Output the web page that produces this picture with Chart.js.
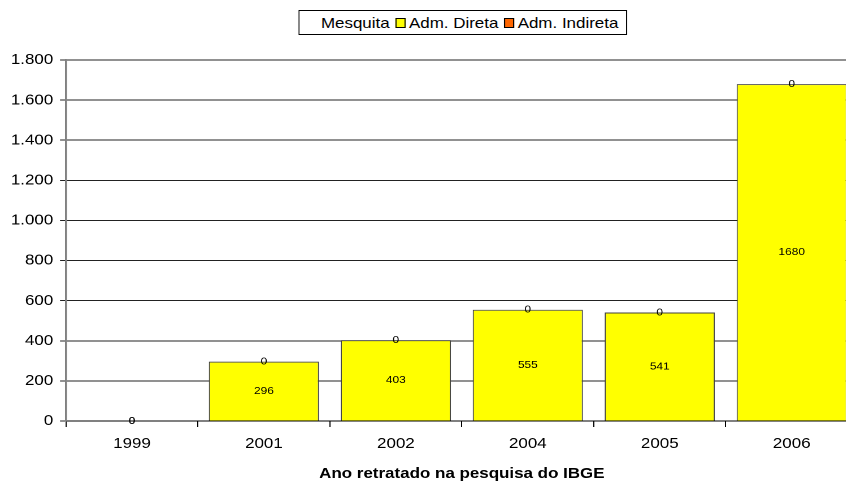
<!DOCTYPE html>
<html>
<head>
<meta charset="utf-8">
<script src="https://cdn.jsdelivr.net/npm/chart.js@4/dist/chart.umd.min.js"></script>
<style>
  html, body { margin: 0; padding: 0; background: #fff; overflow: hidden; width: 846px; height: 482px; }
  /* the reference is drawn slightly stretched horizontally */
  #wrap { position: relative; width: 770px; height: 482px; transform: scaleX(1.13); transform-origin: 0 0; }
  #legend {
    position: absolute; left: 264px; top: 10px; width: 291px; height: 25px; box-sizing: border-box;
    border: 1px solid #000; background: #fff;
    font: 15px "Liberation Sans", Arial, sans-serif; color: #000;
    display: flex; align-items: center; padding: 0 0 0 19px; white-space: nowrap;
  }
  #legend .sw { display: inline-block; box-sizing: border-box; width: 9px; height: 10px; border: 1px solid #000; margin: 0 3px 0 5px; }
</style>
</head>
<body>
<div id="wrap">
  <canvas id="statsChart"></canvas>
  <div id="legend"></div>
</div>
<script>
const years = ['1999', '2001', '2002', '2004', '2005', '2006'];
const admDireta = [0, 296, 403, 555, 541, 1680];
const admIndireta = [0, 0, 0, 0, 0, 0];
const yTicks = [0, 200, 400, 600, 800, 1000, 1200, 1400, 1600, 1800];
const legendTitle = 'Mesquita';

const FONT = '"Liberation Sans", Arial, sans-serif';

document.addEventListener('DOMContentLoaded', () => {
  const canvas = document.getElementById('statsChart');
  canvas.width = 770;
  canvas.height = 482;
  const ctx = canvas.getContext('2d');

  const datasets = [
    {
      label: 'Adm. Direta',
      data: admDireta,
      backgroundColor: '#FFFF00',
      borderColor: '#404040',
      borderWidth: 1
    },
    {
      label: 'Adm. Indireta',
      data: admIndireta,
      backgroundColor: '#FF6600',
      borderColor: '#404040',
      borderWidth: 1
    }
  ];

  // Legend box drawn as html (Excel style, with border)
  const legend = document.getElementById('legend');
  let html = '<span>' + legendTitle + '</span>';
  datasets.forEach(ds => {
    html += '<span class="sw" style="background:' + ds.backgroundColor + '"></span><span>' + ds.label + '</span>';
  });
  legend.innerHTML = html;

  // Value labels centered on each segment
  const valueLabels = {
    id: 'valueLabels',
    afterDatasetsDraw(chart) {
      const c = chart.ctx;
      c.save();
      c.font = '10.5px ' + FONT;
      c.fillStyle = '#000';
      c.textAlign = 'center';
      c.textBaseline = 'middle';
      chart.data.datasets.forEach((ds, i) => {
        chart.getDatasetMeta(i).data.forEach((bar, j) => {
          const y = (bar.y + bar.base) / 2;
          c.fillText(String(ds.data[j]), bar.x, y);
        });
      });
      c.restore();
    }
  };

  new Chart(ctx, {
    type: 'bar',
    data: { labels: years, datasets: datasets },
    options: {
      responsive: false,
      animation: false,
      devicePixelRatio: 2,
      layout: { padding: { top: 60, right: 11, left: 0, bottom: 0 } },
      plugins: {
        legend: { display: false },
        tooltip: { enabled: false }
      },
      datasets: {
        bar: { categoryPercentage: 1, barPercentage: 0.835 }
      },
      scales: {
        x: {
          stacked: true,
          grid: { offset: true, drawOnChartArea: false, drawTicks: true, tickLength: 6, color: '#000' },
          border: { color: '#000', width: 1 },
          ticks: { color: '#000', font: { family: FONT, size: 15 }, padding: 8 },
          title: {
            display: true,
            text: 'Ano retratado na pesquisa do IBGE',
            color: '#000',
            font: { family: FONT, size: 15, weight: 'bold' },
            padding: { top: 8, bottom: -1 }
          },
          afterFit(scale) { scale.height = 61; }
        },
        y: {
          stacked: true,
          min: 0,
          max: 1800,
          afterBuildTicks(scale) { scale.ticks = yTicks.map(v => ({ value: v })); },
          grid: { color: '#222', lineWidth: 1, drawTicks: true, tickLength: 5.3 },
          border: { color: '#808080', width: 1.8 },
          ticks: {
            color: '#000',
            font: { family: FONT, size: 15 },
            padding: 6,
            callback: v => v.toLocaleString('de-DE')
          },
          afterFit(scale) { scale.width = 58.4; }
        }
      }
    },
    plugins: [valueLabels]
  });
});
</script>
</body>
</html>
